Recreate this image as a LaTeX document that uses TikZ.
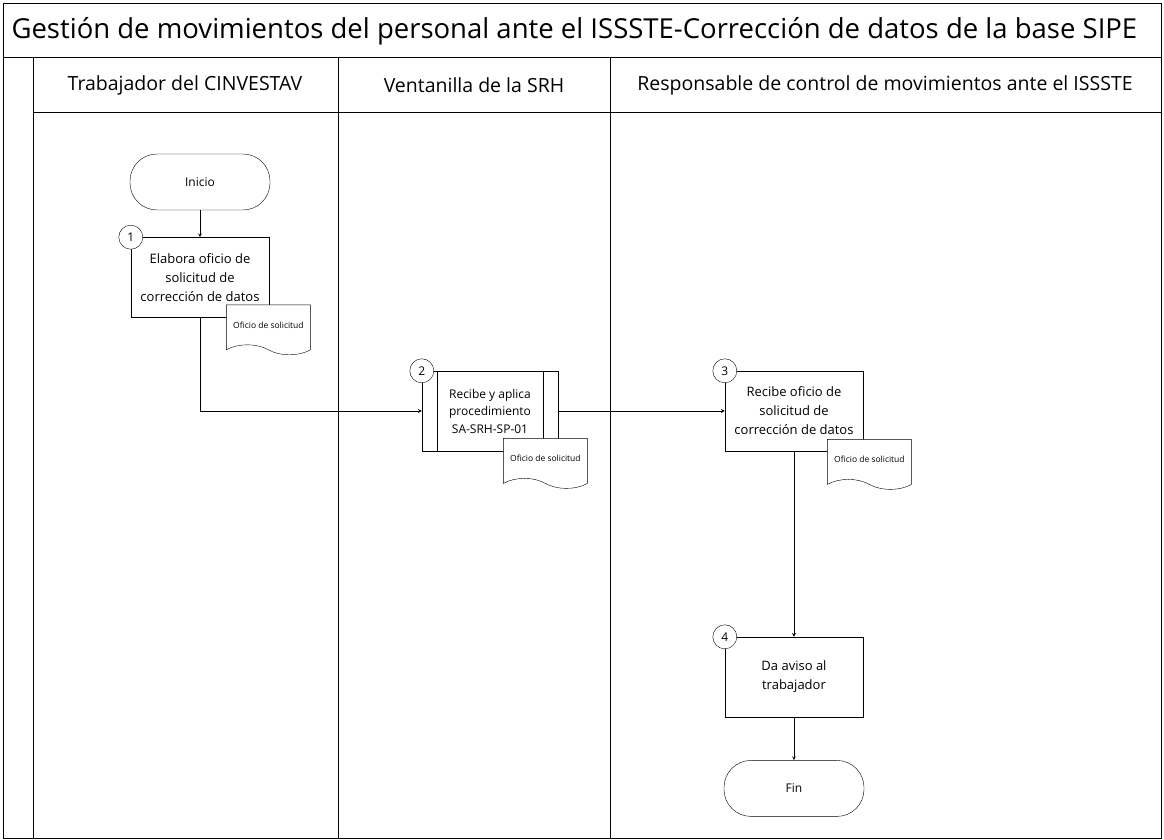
\documentclass[tikz,border=0pt]{standalone}
\usepackage{fontspec}
\setmainfont{Open Sans}
\usepackage{tikz}
\usetikzlibrary{shapes,shapes.symbols,arrows,positioning}

\begin{document}
\begin{tikzpicture}[
    x=1pt, y=-1pt,
    node distance=27pt,
    lane/.style={draw, line width=0.7pt},
    lanehead/.style={font=\fontsize{19.5}{23}\selectfont},
    block/.style={rectangle, draw, fill=white, align=center, minimum width=138pt, minimum height=80pt, font=\fontsize{13}{19}\selectfont},
    term/.style={rectangle, draw, fill=white, rounded corners=27pt, minimum width=140pt, minimum height=56pt, font=\fontsize{12}{14}\selectfont},
    doc/.style={tape, draw, fill=white, tape bend top=none, tape bend bottom=out and in, tape bend height=10pt, minimum width=84pt, minimum height=50pt, inner sep=2pt, font=\fontsize{8.5}{10}\selectfont},
    num/.style={circle, draw, fill=white, minimum size=24pt, inner sep=0pt, font=\fontsize{12}{14}\selectfont},
    arrow/.style={->, line width=0.7pt, >=stealth}
]
    \useasboundingbox (0,0) rectangle (1164,840);

    % Pool and lanes
    \draw[lane] (3,3) rectangle (1161,838);
    \draw[lane] (3,57) -- (1161,57);
    \draw[lane] (33,57) -- (33,838);
    \draw[lane] (33,112) -- (1161,112);
    \draw[lane] (338,57) -- (338,838);
    \draw[lane] (610,57) -- (610,838);

    \node[anchor=west, font=\fontsize{27.5}{32}\selectfont] (title) at (8,31) {Gestión de movimientos del personal ante el ISSSTE-Corrección de datos de la base SIPE};
    \node[lanehead] (trabajador) at (185,85) {Trabajador del CINVESTAV};
    \node[lanehead] (ventanilla) at (474,85) {Ventanilla de la SRH};
    \node[lanehead] (responsable) at (885,85) {Responsable de control de movimientos ante el ISSSTE};

    % Nodes
    \node[term] (inicio) at (200,182) {Inicio};
    \node[block, below=of inicio] (elabora) {Elabora oficio de\\solicitud de\\corrección de datos};
    \node[block, minimum width=136pt, font=\fontsize{12}{17.5}\selectfont] (aplica) at (490,411) {Recibe y aplica\\procedimiento\\SA-SRH-SP-01};
    \draw ([xshift=15pt]aplica.north west) -- ([xshift=15pt]aplica.south west);
    \draw ([xshift=-15pt]aplica.north east) -- ([xshift=-15pt]aplica.south east);
    \node[block] (recibe) at (794,411) {Recibe oficio de\\solicitud de\\corrección de datos};
    \node[block] (aviso) at (794,677) {Da aviso al\\trabajador};
    \node[term, below=43pt of aviso] (fin) {Fin};

    % Documents
    \node[doc, anchor=north west, xshift=-43pt, yshift=13pt] (oficio1) at (elabora.south east) {Oficio de solicitud};
    \node[doc, anchor=north west, xshift=-55pt, yshift=13pt] (oficio2) at (aplica.south east) {Oficio de solicitud};
    \node[doc, anchor=north west, xshift=-36pt, yshift=12pt] (oficio3) at (recibe.south east) {Oficio de solicitud};

    % Step numbers
    \node[num] (n1) at (elabora.north west) {1};
    \node[num] (n2) at (aplica.north west) {2};
    \node[num] (n3) at (recibe.north west) {3};
    \node[num] (n4) at (aviso.north west) {4};

    % Arrows
    \draw[arrow] (inicio) -- (elabora);
    \draw[arrow] (elabora.south) |- (aplica.west);
    \draw[arrow] (aplica) -- (recibe);
    \draw[arrow] (recibe) -- (aviso);
    \draw[arrow] (aviso) -- (fin);
\end{tikzpicture}
\end{document}
